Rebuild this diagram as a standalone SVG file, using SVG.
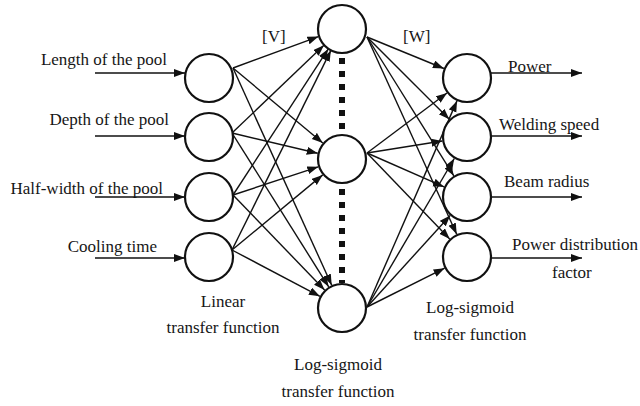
<svg xmlns="http://www.w3.org/2000/svg" width="640" height="406" viewBox="0 0 640 406">
  <defs>
    <marker id="arrow" markerUnits="userSpaceOnUse" markerWidth="13" markerHeight="10" refX="11" refY="4" orient="auto">
      <path d="M0,0 L11,4 L0,8 z" fill="#111"/>
    </marker>
    <style>
      .node { fill: #fff; stroke: #111; stroke-width: 2.2; }
      .link { stroke: #111; stroke-width: 1.4; fill: none; marker-end: url(#arrow); }
      .dots { stroke: #111; stroke-width: 6; stroke-dasharray: 6 7; fill: none; }
      text { font-family: "Liberation Serif", "Times New Roman", serif; font-size: 17px; fill: #161616; }
      .mid { text-anchor: middle; }
      .end { text-anchor: end; }
    </style>
  </defs>
  <rect width="640" height="406" fill="#fff"/>

  <!-- dotted column marking the omitted hidden neurons -->
  <g id="hidden-ellipsis">
    <line class="dots" x1="342" y1="58" x2="342" y2="134"/>
    <line class="dots" x1="342" y1="189" x2="342" y2="283"/>
  </g>

  <g id="connectors">
    <!-- inputs into the input layer -->
    <line class="link" x1="95" y1="73" x2="185" y2="73"/>
    <line class="link" x1="95" y1="136" x2="185" y2="136"/>
    <line class="link" x1="95" y1="197" x2="185" y2="197"/>
    <line class="link" x1="95" y1="258" x2="185" y2="258"/>
    <!-- input layer to hidden layer [V] -->
    <line class="link" x1="233" y1="68" x2="318.5" y2="36.6"/>
    <line class="link" x1="233" y1="68" x2="322.8" y2="143"/>
    <line class="link" x1="233" y1="68" x2="331.7" y2="285.2"/>
    <line class="link" x1="232" y1="133" x2="323.9" y2="45.3"/>
    <line class="link" x1="232" y1="133" x2="317.7" y2="153.3"/>
    <line class="link" x1="232" y1="133" x2="328.7" y2="286.8"/>
    <line class="link" x1="233" y1="195" x2="328.3" y2="48.9"/>
    <line class="link" x1="233" y1="195" x2="318.3" y2="166.8"/>
    <line class="link" x1="233" y1="195" x2="324.6" y2="290"/>
    <line class="link" x1="232" y1="250" x2="330.9" y2="50.4"/>
    <line class="link" x1="232" y1="250" x2="322.7" y2="174.9"/>
    <line class="link" x1="232" y1="250" x2="319.9" y2="296.3"/>
    <!-- hidden layer to output layer [W] -->
    <line class="link" x1="367" y1="37" x2="443.9" y2="68.5"/>
    <line class="link" x1="367" y1="37" x2="449.3" y2="119.3"/>
    <line class="link" x1="367" y1="37" x2="453.8" y2="175.8"/>
    <line class="link" x1="367" y1="37" x2="456.7" y2="234.2"/>
    <line class="link" x1="367" y1="153" x2="447" y2="93"/>
    <line class="link" x1="367" y1="153" x2="442.3" y2="141"/>
    <line class="link" x1="367" y1="153" x2="444.1" y2="186.9"/>
    <line class="link" x1="367" y1="153" x2="449.7" y2="239"/>
    <line class="link" x1="367" y1="307" x2="457" y2="100.9"/>
    <line class="link" x1="367" y1="307" x2="454.3" y2="158.5"/>
    <line class="link" x1="367" y1="307" x2="450.2" y2="215.5"/>
    <line class="link" x1="367" y1="307" x2="444.6" y2="268.2"/>
    <!-- outputs -->
    <line class="link" x1="491" y1="73" x2="582" y2="73"/>
    <line class="link" x1="491" y1="136" x2="582" y2="136"/>
    <line class="link" x1="491" y1="197" x2="582" y2="197"/>
    <line class="link" x1="491" y1="258" x2="582" y2="258"/>
  </g>

  <!-- input layer -->
  <g id="in-length"><circle class="node" cx="209" cy="78" r="24"/></g>
  <g id="in-depth"><circle class="node" cx="209" cy="137" r="24"/></g>
  <g id="in-halfwidth"><circle class="node" cx="209" cy="197" r="24"/></g>
  <g id="in-cooling"><circle class="node" cx="209" cy="257" r="24"/></g>

  <!-- hidden layer -->
  <g id="hidden-1"><circle class="node" cx="342" cy="29" r="24"/></g>
  <g id="hidden-2"><circle class="node" cx="342" cy="159" r="24"/></g>
  <g id="hidden-n"><circle class="node" cx="342" cy="308" r="24"/></g>

  <!-- output layer -->
  <g id="out-power"><circle class="node" cx="467" cy="78" r="24"/></g>
  <g id="out-speed"><circle class="node" cx="467" cy="137" r="24"/></g>
  <g id="out-radius"><circle class="node" cx="467" cy="197" r="24"/></g>
  <g id="out-distribution"><circle class="node" cx="467" cy="257" r="24"/></g>

  <g id="labels">
    <text class="end" x="167" y="65">Length of the pool</text>
    <text class="end" x="169" y="125">Depth of the pool</text>
    <text class="end" x="163" y="194">Half-width of the pool</text>
    <text class="end" x="157" y="252">Cooling time</text>

    <text x="262" y="42">[V]</text>
    <text x="403" y="42">[W]</text>

    <text x="508" y="72">Power</text>
    <text x="499" y="130">Welding speed</text>
    <text x="504" y="187">Beam radius</text>
    <text x="512" y="250">Power distribution</text>
    <text x="552" y="278">factor</text>

    <text class="mid" x="223" y="307">Linear</text>
    <text class="mid" x="223" y="333">transfer function</text>
    <text class="mid" x="338" y="370">Log-sigmoid</text>
    <text class="mid" x="338" y="397">transfer function</text>
    <text class="mid" x="470" y="313">Log-sigmoid</text>
    <text class="mid" x="470" y="340">transfer function</text>
  </g>
</svg>
